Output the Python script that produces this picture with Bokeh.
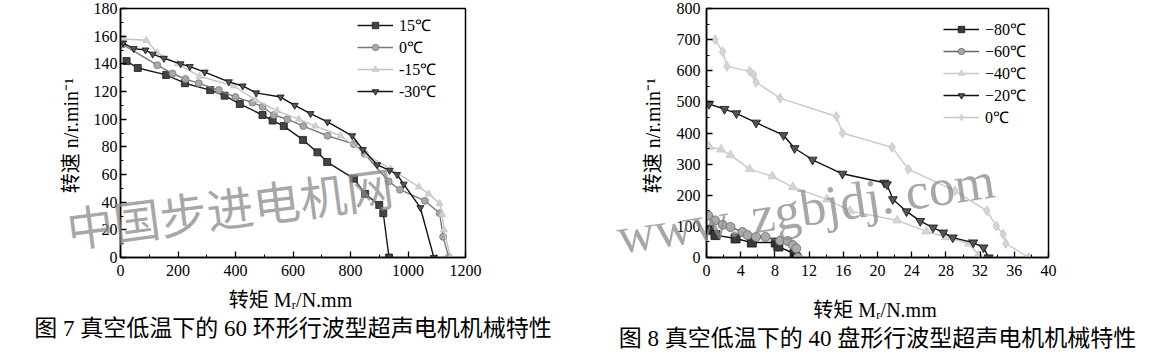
from bokeh.plotting import figure
from bokeh.models import Label, Title, Range1d, SingleIntervalTicker, GridBox
from bokeh.embed import file_html
from bokeh.resources import INLINE

# ---------------- Figure 7 data (60 ring-type USM) ----------------
f7_x_ticks = [0, 200, 400, 600, 800, 1000, 1200]
f7_y_ticks = [0, 20, 40, 60, 80, 100, 120, 140, 160, 180]

f7_15_x = [21, 60, 159, 224, 312, 362, 415, 494, 529, 568, 635, 685, 719, 812, 851, 900, 914, 934]
f7_15_y = [142, 137, 132, 126, 121, 117, 111, 103, 99, 95, 85, 76, 69, 57, 46, 38, 32, 0]

f7_0_x = [7, 128, 181, 226, 272, 342, 400, 459, 494, 533, 580, 636, 720, 812, 849, 933, 972, 1059, 1110, 1122, 1142]
f7_0_y = [154, 139, 133, 129, 126, 121, 116, 112, 109, 103, 100, 95, 88, 82, 75, 55, 49, 41, 32, 15, 0]

f7_m15_x = [10, 90, 128, 200, 275, 394, 470, 545, 620, 678, 765, 858, 939, 1038, 1072, 1110, 1119, 1125, 1148]
f7_m15_y = [158, 157, 148, 140, 131, 124, 114, 106, 100, 95, 88, 74, 64, 51, 46, 39, 31, 20, 0]

f7_m30_x = [9, 46, 87, 112, 151, 209, 241, 293, 377, 425, 472, 557, 606, 661, 720, 806, 843, 893, 936, 962, 985, 1043, 1090]
f7_m30_y = [155, 151, 150, 147, 144, 140, 138, 134, 127, 124, 119, 116, 110, 104, 98, 88, 78, 67, 63, 60, 53, 36, 0]

# ---------------- Figure 8 data (40 disk-type USM) ----------------
f8_x_ticks = [0, 4, 8, 12, 16, 20, 24, 28, 32, 36, 40]
f8_y_ticks = [0, 100, 200, 300, 400, 500, 600, 700, 800]

f8_m80_x = [0.3, 1.05, 3.4, 5.3, 8.1, 8.4, 10.3, 10.5]
f8_m80_y = [89, 72, 61, 48, 48, 35, 12, 0]

f8_m60_x = [0.2, 1.0, 1.9, 2.8, 4.2, 4.8, 5.8, 6.9, 8.6, 9.5, 10.1, 10.5, 10.7]
f8_m60_y = [135, 119, 105, 98, 82, 72, 66, 66, 54, 53, 40, 29, 0]

f8_m40_x = [0.3, 1.7, 2.8, 5.05, 7.7, 10.1, 14.1, 16.8, 22.3, 25.7, 28.0, 30.7, 31.8, 32.0]
f8_m40_y = [356, 347, 329, 284, 261, 226, 187, 150, 119, 84, 66, 45, 8, 0]

f8_m20_x = [0.3, 2.1, 3.5, 5.8, 9.0, 10.3, 12.4, 15.9, 20.8, 21.1, 21.8, 23.4, 25.0, 26.5, 27.7, 28.8, 31.2, 32.4, 33.0]
f8_m20_y = [493, 477, 463, 433, 393, 351, 314, 269, 240, 235, 187, 148, 117, 96, 80, 64, 48, 32, 0]

f8_0_x = [1.0, 1.9, 2.4, 5.05, 5.5, 5.8, 8.6, 15.2, 15.9, 21.7, 23.6, 29.05, 32.8, 33.9, 34.7, 35.0, 37.7]
f8_0_y = [700, 661, 614, 598, 587, 563, 512, 453, 400, 354, 284, 214, 150, 101, 75, 45, 0]

SERIF = "Liberation Serif"
MIXED = "'Liberation Serif', 'Noto Sans CJK SC'"
CJK = "Noto Sans CJK SC"

W, H = 574, 352
FRAME_TOP, FRAME_BOTTOM = 8, 257


def style(p, x_interval, y_interval):
    p.xgrid.visible = False
    p.ygrid.visible = False
    p.outline_line_color = "black"
    p.outline_line_width = 1.5
    p.outline_line_alpha = 1.0
    p.background_fill_color = "white"
    p.border_fill_color = "white"
    p.xaxis.ticker = SingleIntervalTicker(interval=x_interval, num_minor_ticks=2)
    p.yaxis.ticker = SingleIntervalTicker(interval=y_interval, num_minor_ticks=2)
    for ax in (p.xaxis, p.yaxis):
        ax.axis_line_width = 1.5
        ax.axis_line_color = "black"
        ax.major_tick_in = 6
        ax.major_tick_out = 0
        ax.minor_tick_in = 3
        ax.minor_tick_out = 0
        ax.major_tick_line_width = 1.3
        ax.minor_tick_line_width = 1.0
        ax.major_tick_line_color = "black"
        ax.minor_tick_line_color = "black"
        ax.major_label_text_font = SERIF
        ax.major_label_text_font_size = "16px"
        ax.major_label_text_color = "black"
        ax.major_label_text_line_height = 1.0
        ax.axis_label_text_font = MIXED
        ax.axis_label_text_font_style = "normal"
        ax.axis_label_text_color = "black"
        ax.axis_label_text_font_size = "20px"
        ax.axis_label_text_line_height = 1.0
    p.xaxis.major_label_standoff = 7


def series(p, xs, ys, label, line_color, marker, fill, size):
    p.line(xs, ys, line_color=line_color, line_width=1.4, legend_label=label)
    p.scatter(xs, ys, marker=marker, size=size, fill_color=fill, line_color=line_color,
              line_width=0.8, legend_label=label)


def style_legend(p, loc):
    lg = p.legend[0]
    lg.location = loc
    lg.border_line_alpha = 0
    lg.background_fill_alpha = 0
    lg.padding = 0
    lg.margin = 0
    lg.spacing = 0
    lg.glyph_width = 36
    lg.glyph_height = 16
    lg.label_height = 20
    lg.label_standoff = 6
    lg.label_text_font = SERIF
    lg.label_text_font_size = "16px"
    lg.label_text_line_height = 0.9
    lg.label_text_color = "black"


def caption(text, standoff):
    return Title(text=text, align="center", text_font=MIXED, text_font_size="23px",
                 text_font_style="normal", text_color="black", text_line_height=1.0,
                 standoff=standoff)


# ---------------- Figure 7 ----------------
p1 = figure(width=W, height=H, x_range=Range1d(f7_x_ticks[0], f7_x_ticks[-1]),
            y_range=Range1d(f7_y_ticks[0], f7_y_ticks[-1]),
            output_backend="svg", toolbar_location=None,
            min_border_left=120, min_border_right=109, min_border_top=FRAME_TOP,
            min_border_bottom=H - FRAME_BOTTOM)
style(p1, 200, 20)
p1.xaxis.axis_label = "转矩  Mᵣ/N.mm"
p1.yaxis.axis_label = "转速  n/r.min⁻¹"
p1.yaxis.major_label_standoff = 3
p1.xaxis.axis_label_standoff = 10
p1.yaxis.axis_label_standoff = 9

series(p1, f7_15_x, f7_15_y, "15℃", "#1a1a1a", "square", "#444444", 7)
series(p1, f7_0_x, f7_0_y, "0℃", "#7a7a7a", "circle", "#a8a8a8", 7)
series(p1, f7_m15_x, f7_m15_y, "-15℃", "#c4c4c4", "triangle", "#d0d0d0", 7)
series(p1, f7_m30_x, f7_m30_y, "-30℃", "#111111", "inverted_triangle", "#555555", 7)
style_legend(p1, (237, 155))
p1.add_layout(caption("图 7 真空低温下的 60 环形行波型超声电机机械特性", 0), "below")

# ---------------- Figure 8 ----------------
p2 = figure(width=W, height=H, x_range=Range1d(f8_x_ticks[0], f8_x_ticks[-1]),
            y_range=Range1d(f8_y_ticks[0], f8_y_ticks[-1]),
            output_backend="svg", toolbar_location=None,
            min_border_left=132, min_border_right=100, min_border_top=FRAME_TOP,
            min_border_bottom=H - FRAME_BOTTOM)
style(p2, 4, 100)
p2.xaxis.axis_label = "转矩  Mᵣ/N.mm"
p2.yaxis.axis_label = "转速  n/r.min⁻¹"
p2.yaxis.major_label_standoff = 6
p2.xaxis.axis_label_standoff = 20
p2.yaxis.axis_label_standoff = 10

series(p2, f8_m80_x, f8_m80_y, "−80℃", "#111111", "square", "#3a3a3a", 9)
series(p2, f8_m60_x, f8_m60_y, "−60℃", "#666666", "circle", "#aaaaaa", 9)
series(p2, f8_m40_x, f8_m40_y, "−40℃", "#c8c8c8", "triangle", "#d4d4d4", 9)
series(p2, f8_m20_x, f8_m20_y, "−20℃", "#111111", "inverted_triangle", "#555555", 9)
series(p2, f8_0_x, f8_0_y, "0℃", "#c8c8c8", "diamond", "#d4d4d4", 10)
style_legend(p2, (237, 129))
p2.add_layout(caption("图 8 真空低温下的 40 盘形行波型超声电机机械特性", 0), "below")

# ---------------- transparent overlay carrying the scan watermarks ----------------
# its data units are page pixels (x to the right, y measured up from the bottom)
wm = figure(width=2 * W, height=H, x_axis_type=None, y_axis_type=None,
            output_backend="svg", toolbar_location=None, min_border=0)
try:
    wm.frame_align = False
    x0, x1, y0, y1 = 0, 2 * W, 0, H
except Exception:
    x0, x1, y0, y1 = 120, 2 * W - 100, H - FRAME_BOTTOM, H - FRAME_TOP
wm.x_range = Range1d(x0, x1)
wm.y_range = Range1d(y0, y1)
wm.grid.visible = False
wm.outline_line_color = None
wm.background_fill_alpha = 0
wm.border_fill_alpha = 0
wm.add_layout(Label(x=66, y=H - 227, text="中国步进电机网", text_font=CJK, text_font_size="47px",
                    text_baseline="alphabetic", text_color="#8a8a8a", text_alpha=0.75, angle=0.13))
wm.add_layout(Label(x=617, y=H - 236, text="www. zgbjdj. com", text_font=SERIF, text_font_size="52px",
                    text_baseline="alphabetic", text_color="#8a8a8a", text_alpha=0.75, angle=0.15))

layout = GridBox(children=[(p1, 0, 0), (p2, 0, 1), (wm, 0, 0, 1, 2)])
open("out.html", "w").write(file_html(layout, INLINE))
